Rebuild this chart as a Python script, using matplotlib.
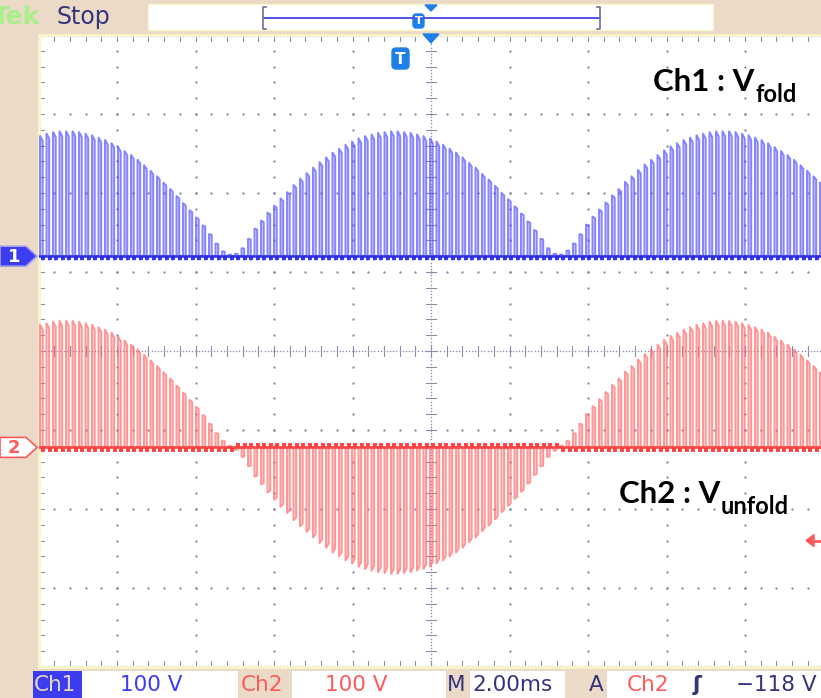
import matplotlib.pyplot as plt
import numpy as np
from matplotlib.patches import Rectangle, FancyBboxPatch, Polygon

# scope settings
time_per_div = 2.0       # ms / div
volts_per_div = 100.0    # V / div
ch1_offset = 1.2         # div above centre
ch2_offset = -1.22       # div below centre
trig_level = -118.0      # V, Ch2 trigger
sw_period = 0.1656       # ms, PWM switching period
pulse_width = 0.066      # ms
first_pulse = -9.96      # ms

# peak voltage of each switching pulse (V)
ch2_peaks = [
    155, 157, 159, 160, 160, 160, 159, 157, 155, 152,
    149, 145, 140, 135, 130, 124, 117, 110, 103, 95,
    87, 78, 69, 60, 51, 41, 30, 18, 8, 2,
    -3, -12, -24, -37, -47, -57, -66, -75, -83, -92,
    -100, -107, -114, -121, -127, -133, -138, -143, -147, -151,
    -154, -156, -158, -159, -160, -160, -159, -158, -156, -154,
    -151, -147, -143, -138, -133, -127, -120, -114, -106, -99,
    -91, -82, -74, -65, -56, -46, -35, -24, -12, -4,
    2, 8, 18, 30, 42, 52, 61, 70, 79, 87,
    96, 103, 111, 118, 124, 130, 136, 141, 145, 149,
    152, 155, 157, 159, 160, 160, 160, 159, 157, 155,
    152, 149, 145, 140, 135, 130, 124, 117, 110, 103, 95,
]
ch1_peaks = [
    152, 155, 157, 158, 158, 158, 157, 155, 153, 150,
    147, 143, 138, 133, 128, 122, 115, 108, 101, 93,
    85, 76, 67, 58, 49, 39, 28, 16, 6, 2,
    3, 10, 22, 35, 45, 55, 64, 73, 81, 90,
    98, 105, 112, 119, 125, 131, 136, 141, 145, 149,
    152, 154, 156, 157, 158, 158, 157, 156, 154, 152,
    149, 145, 141, 136, 131, 125, 118, 112, 104, 97,
    89, 80, 72, 63, 54, 44, 33, 22, 10, 3,
    2, 7, 16, 28, 40, 50, 59, 68, 77, 85,
    94, 101, 109, 116, 122, 128, 134, 139, 143, 147,
    150, 153, 155, 157, 158, 158, 158, 157, 155, 153,
    150, 147, 143, 138, 133, 128, 122, 115, 108, 101, 93,
]

W, H = 821, 698
BEIGE = '#eadac7'
NAVY = '#34347a'
BLUE = '#3c3cf0'
RED = '#ff5a5a'
TBLUE = '#1f7fe8'
DOT = '#8c8cb0'


def pulse_trace(peaks, offset):
    xs, ys, fx, fy = [], [], [], []
    for k, v in enumerate(peaks):
        t = first_pulse + k * sw_period
        p = v / volts_per_div
        ring = -0.045 if p >= 0 else 0.045
        xs += [t, t, t + pulse_width, t + pulse_width, t + pulse_width + 0.03, t + sw_period]
        ys += [0, p, p * 0.96, ring, 0, 0]
        fx.append(t + pulse_width + 0.01)
        fy.append(ring * 0.6)
    return np.array(xs), np.array(ys) + offset, np.array(fx), np.array(fy) + offset


fig = plt.figure(figsize=(W / 100, H / 100), dpi=100, facecolor=BEIGE)

# graticule area
x0, x1, y0, y1 = 38.5, 823.5, 35, 667
ax = fig.add_axes([x0 / W, 1 - y1 / H, (x1 - x0) / W, (y1 - y0) / H])
ax.set_facecolor('white')
ax.set_xlim(-5 * time_per_div, 5 * time_per_div)
ax.set_ylim(-4, 4)
ax.set_xticks([])
ax.set_yticks([])
for s in ax.spines.values():
    s.set_color('#fbf6c8')
    s.set_linewidth(2)

# dotted grid
xdiv = np.arange(-4, 5) * time_per_div
ydiv = np.arange(-3, 4)
yminor = np.arange(-4, 4.01, 0.2)
xminor = np.arange(-10, 10.01, 0.4)
for xv in xdiv:
    if xv != 0:
        ax.scatter(np.full_like(yminor, xv), yminor, s=3, color=DOT, lw=0, zorder=1)
for yv in ydiv:
    if yv != 0:
        ax.scatter(xminor, np.full_like(xminor, yv), s=3, color=DOT, lw=0, zorder=1)

# centre cross and edges: fine dotted lines with minor ticks
dense_y = np.arange(-4, 4.01, 0.04)
dense_x = np.arange(-10, 10.01, 0.08)
ax.scatter(np.zeros_like(dense_y), dense_y, s=1.2, color=DOT, lw=0, zorder=1)
ax.scatter(dense_x, np.zeros_like(dense_x), s=1.2, color=DOT, lw=0, zorder=1)
ax.scatter(dense_x, np.full_like(dense_x, 3.985), s=1.2, color=DOT, lw=0, zorder=1)
ax.scatter(dense_x, np.full_like(dense_x, -3.985), s=1.2, color=DOT, lw=0, zorder=1)
ax.scatter(np.full_like(dense_y, -9.985), dense_y, s=1.2, color=DOT, lw=0, zorder=1)
for yv in yminor:
    ax.plot([-0.12, 0.12], [yv, yv], color=DOT, lw=0.8, zorder=1)
    ax.plot([-10, -9.85], [yv, yv], color=DOT, lw=0.8, zorder=1)
for xv in xminor:
    ax.plot([xv, xv], [-0.06, 0.06], color=DOT, lw=0.8, zorder=1)
    ax.plot([xv, xv], [4, 3.92], color=DOT, lw=0.8, zorder=1)
    ax.plot([xv, xv], [-4, -3.92], color=DOT, lw=0.8, zorder=1)

# channel traces
for peaks, off, line_c, base_c in [(ch1_peaks, ch1_offset, '#5252ff', '#2b2be6'),
                                   (ch2_peaks, ch2_offset, '#ff6a6a', '#ff3a3a')]:
    tx, ty, fx, fy = pulse_trace(peaks, off)
    ax.plot(tx, ty, color=line_c, lw=1.5, alpha=0.7, zorder=3)
    ax.plot([-10, 10], [off, off], color=base_c, lw=2.0, alpha=0.85, zorder=3)
    ax.scatter(fx, fy, s=12, marker='s', color=base_c, lw=0, alpha=0.9, zorder=4)

# overlay in pixel coordinates for the scope decorations
ov = fig.add_axes([0, 0, 1, 1], facecolor='none')
ov.set_xlim(0, W)
ov.set_ylim(H, 0)
ov.axis('off')

# top status bar
ov.text(-7, 17, 'Tek', color='#aaf08a', fontsize=18, fontweight='bold',
        va='center', ha='left', family='DejaVu Sans', clip_on=False)
ov.text(57, 17, 'Stop', color=NAVY, fontsize=17, va='center', ha='left',
        family='DejaVu Sans')
ov.add_patch(Rectangle((148, 4), 565, 26, facecolor='white', edgecolor='#fbf6c8', lw=1))
ov.plot([264, 600], [18, 18], color='#5050e6', lw=1.4)
ov.plot([266, 263, 263, 266], [7, 7, 29, 29], color='#707098', lw=1.2)
ov.plot([597, 600, 600, 597], [7, 7, 29, 29], color='#707098', lw=1.2)
ov.add_patch(Polygon([[425, 5], [437, 5], [431, 11]], color=TBLUE))
ov.add_patch(FancyBboxPatch((413, 14), 11, 14, boxstyle='round,pad=0,rounding_size=3',
                            color=TBLUE))
ov.text(418.5, 21.5, 'T', color='white', fontsize=8, fontweight='bold', ha='center',
        va='center')

# trigger position and marker inside the graticule
ov.add_patch(Polygon([[423, 34], [439, 34], [431, 43]], color=TBLUE, zorder=5))
ov.add_patch(FancyBboxPatch((392, 48), 17, 21, boxstyle='round,pad=0,rounding_size=4',
                            color=TBLUE, zorder=5))
ov.text(400.5, 59, 'T', color='white', fontsize=11, fontweight='bold', ha='center',
        va='center', zorder=6)


# channel ground markers
def ground_marker(y, label, face, edge, text_c):
    ov.add_patch(Polygon([[0, y - 10], [26, y - 10], [37, y], [26, y + 10], [0, y + 10]],
                         facecolor=face, edgecolor=edge, lw=1.2, zorder=5))
    ov.text(14, y + 0.5, label, color=text_c, fontsize=13, fontweight='bold',
            ha='center', va='center', zorder=6)


ch_y = lambda off: y0 + (4 - off) * (y1 - y0) / 8
ground_marker(ch_y(ch1_offset), '1', BLUE, '#a0a0f0', 'white')
ground_marker(ch_y(ch2_offset), '2', 'white', RED, RED)

# Ch2 trigger level arrow on the right edge
ty_px = ch_y(ch2_offset + trig_level / volts_per_div)
ov.add_patch(Polygon([[806, ty_px], [814, ty_px - 6], [814, ty_px + 6]], color=RED, zorder=5))
ov.plot([812, 821], [ty_px, ty_px], color=RED, lw=2, zorder=5)

# channel labels
lab1 = ax.text(0.783, 0.911, 'Ch1 : V', transform=ax.transAxes, fontsize=22.5,
               fontweight='bold', family='Lato', ha='left', va='baseline')
ax.annotate('fold', xy=(1, 0), xycoords=lab1, xytext=(0.5, -4), textcoords='offset points',
            fontsize=17, fontweight='bold', family='Lato', ha='left', va='baseline')
lab2 = ax.text(0.739, 0.259, 'Ch2 : V', transform=ax.transAxes, fontsize=22.5,
               fontweight='bold', family='Lato', ha='left', va='baseline')
ax.annotate('unfold', xy=(1, 0), xycoords=lab2, xytext=(0.5, -4), textcoords='offset points',
            fontsize=17, fontweight='bold', family='Lato', ha='left', va='baseline')

# bottom status bar
ov.add_patch(Rectangle((35, 671), 786, 27, facecolor='white', edgecolor='none'))
ov.add_patch(Rectangle((33, 671), 49, 27, facecolor=BLUE, edgecolor='none'))
ov.add_patch(Rectangle((238, 671), 54, 27, facecolor=BEIGE, edgecolor='none'))
ov.add_patch(Rectangle((446, 671), 24, 27, facecolor=BEIGE, edgecolor='none'))
ov.add_patch(Rectangle((565, 671), 42, 27, facecolor=BEIGE, edgecolor='none'))
by = 685
bar = dict(fontsize=15.5, va='center', ha='left', family='DejaVu Sans')
ov.text(34, by, 'Ch1', color='#e6d6c4', **bar)
ov.text(120, by, '100 V', color=BLUE, **bar)
ov.text(241, by, 'Ch2', color=RED, **bar)
ov.text(325, by, '100 V', color=RED, **bar)
ov.text(447, by, 'M', color=NAVY, **bar)
ov.text(472, by, '2.00ms', color=NAVY, **bar)
ov.text(589, by, 'A', color=NAVY, **bar)
ov.text(627, by, 'Ch2', color=RED, **bar)
ov.text(693, by, 'ʃ', color=NAVY, fontsize=15.5, fontweight='bold', va='center', ha='left')
ov.text(736, by, '\u2212118 V', color=NAVY, **bar)

fig.savefig('out.png', dpi=100, facecolor=BEIGE)
